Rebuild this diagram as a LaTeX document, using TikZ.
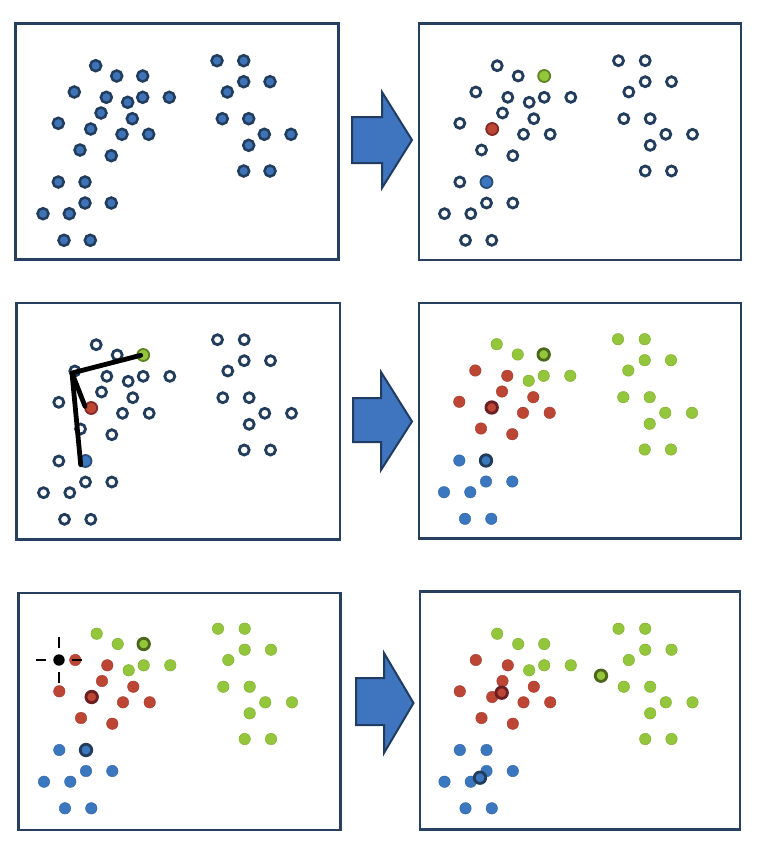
\documentclass[tikz,border=0pt]{standalone}
\usetikzlibrary{calc}
\definecolor{navy}{HTML}{223C5C}
\definecolor{framec}{HTML}{27405F}
\definecolor{dotblue}{HTML}{3E73B8}
\definecolor{cgreen}{HTML}{93C63A}
\definecolor{cred}{HTML}{BC4534}
\definecolor{cblue}{HTML}{3A77BE}
\definecolor{dkgreen}{HTML}{4C661C}
\definecolor{dkred}{HTML}{6A1E22}
\definecolor{arrowfill}{HTML}{3F74BE}
\definecolor{arrowline}{HTML}{203C60}
\tikzset{
  panel/.style={draw=framec, line width=2.8pt},
  dotA/.style={circle, inner sep=0pt, minimum size=11pt, fill=dotblue, draw=navy, line width=2.5pt},
  opendot/.style={circle, inner sep=0pt, minimum size=10pt, fill=white, draw=navy, line width=2.8pt},
  dotG/.style={circle, inner sep=0pt, minimum size=11.5pt, fill=cgreen, draw=cgreen!85!black, line width=0.4pt},
  dotR/.style={circle, inner sep=0pt, minimum size=11.5pt, fill=cred, draw=cred!85!black, line width=0.4pt},
  dotB/.style={circle, inner sep=0pt, minimum size=11.5pt, fill=cblue, draw=cblue!85!black, line width=0.4pt},
  seedG/.style={circle, inner sep=0pt, minimum size=12pt, fill=cgreen, draw=dkgreen!70!cgreen, line width=1.8pt},
  seedR/.style={circle, inner sep=0pt, minimum size=12pt, fill=cred, draw=dkred!70!cred, line width=1.8pt},
  seedB/.style={circle, inner sep=0pt, minimum size=12pt, fill=cblue, draw=navy!70!cblue, line width=1.8pt},
  ringG/.style={circle, inner sep=0pt, minimum size=11.5pt, fill=cgreen, draw=dkgreen, line width=2.8pt},
  ringR/.style={circle, inner sep=0pt, minimum size=11.5pt, fill=cred, draw=dkred, line width=2.8pt},
  ringB/.style={circle, inner sep=0pt, minimum size=11.5pt, fill=cblue, draw=navy, line width=2.8pt},
  blockarrow/.style={fill=arrowfill, draw=arrowline, line width=2pt, line join=miter},
  distline/.style={line width=4.8pt, black, line cap=round, line join=round},
  tick/.style={line width=2.6pt, black}
}
\def\pts{1/95.7/65.7/G,2/116.7/76/G,3/142.7/76/G,4/74.3/92/R,5/106.3/97.3/R,6/127.7/102.3/G,7/142.7/97.3/G,8/169.3/97.3/G,9/101/113/R,10/132.3/118.7/R,11/58.3/123.3/R,12/90.7/129/R,13/122/134.3/R,14/148.7/134.3/R,15/80/150/R,16/111.3/155.7/R,17/58.3/182/B,18/85/182/B,19/85/203/B,20/111.3/203/B,21/43/213.7/B,22/69.3/213.7/B,23/64/240.3/B,24/90.3/240.3/B,25/217/60.7/G,26/243.7/60.7/G,27/243.7/81.7/G,28/270/81.7/G,29/227.3/92/G,30/222.3/118.7/G,31/248.7/118.7/G,32/264.3/134.3/G,33/291/134.3/G,34/248.7/145.3/G,35/243.7/171/G,36/270/171/G}
\begin{document}
\begin{tikzpicture}[x=1pt,y=-1pt]
\useasboundingbox (0,0) rectangle (758,846);
\fill[white] (0,0) rectangle (758,846);
% panels
\draw[panel] (15.7,23.3) rectangle (338.3,259.5);
\draw[panel] (419,23.3) rectangle (741,260);
\draw[panel] (16.7,303) rectangle (340,539.5);
\draw[panel] (419,303) rectangle (741,538.7);
\draw[panel] (18.3,593) rectangle (340.7,830);
\draw[panel] (420,591.7) rectangle (740,829.3);
% arrows
\draw[blockarrow] (352,117) -- (382,117) -- (382,92) -- (412,140) -- (382,188) -- (382,163) -- (352,163) -- cycle;
\draw[blockarrow] (353,398) -- (381,398) -- (381,372) -- (412,421.5) -- (381,470) -- (381,442) -- (353,442) -- cycle;
\draw[blockarrow] (356,678) -- (384,678) -- (384,653) -- (413.5,703) -- (384,753) -- (384,725) -- (356,725) -- cycle;
% panel 1: data
\foreach \i/\x/\y/\c in \pts { \node[dotA] (a\i) at (\x,\y) {}; }
% panel 2: random seeds
\foreach \i/\x/\y/\c in \pts { \node[opendot] (b\i) at ({\x+401.5},\y) {}; }
\node[seedG] (bg) at (b3) {};
\node[seedR] (br) at (b12) {};
\node[seedB] (bb) at (b18) {};
% panel 3: distances
\foreach \i/\x/\y/\c in \pts { \node[opendot] (c\i) at ({\x+0.5},{\y+279}) {}; }
\node[seedG] (cg) at (c3) {};
\node[seedR] (cr) at (c12) {};
\node[seedB] (cb) at (c18) {};
\coordinate (J) at (72,373);
\coordinate (Jg) at (140.7,355.3);
\coordinate (Jr) at (85,406.3);
\coordinate (Jb) at (80.7,464.7);
\draw[distline] (Jg) -- (J) -- (Jb);
\draw[distline] (J) -- (Jr);
% panel 4: assignment
\foreach \i/\x/\y/\c in \pts { \node[dot\c] (d\i) at ({\x+401},{\y+278.5}) {}; }
\node[ringG] (dg) at (d3) {};
\node[ringR] (dr) at (d12) {};
\node[ringB] (db) at (d18) {};
% panel 5: assignment with probe
\foreach \i/\x/\y/\c in \pts { \node[dot\c] (e\i) at ({\x+1},{\y+568}) {}; }
\node[ringG] (eg) at (e3) {};
\node[ringR] (er) at (e12) {};
\node[ringB] (eb) at (e18) {};
\node[circle, fill=black, inner sep=0pt, minimum size=11.4pt] (probe) at (59,660) {};
\draw[tick] ($(probe)+(-23,0)$) -- ($(probe)+(-13,0)$);
\draw[tick] ($(probe)+(13,0)$) -- ($(probe)+(23,0)$);
\draw[tick] ($(probe)+(0,-23)$) -- ($(probe)+(0,-12)$);
\draw[tick] ($(probe)+(0,12)$) -- ($(probe)+(0,23)$);
% panel 6: updated centroids
\foreach \i/\x/\y/\c in \pts { \node[dot\c] (f\i) at ({\x+401.5},{\y+568}) {}; }
\node[ringG] (fg) at (601,675.7) {};
\node[ringR] (fr) at (501.7,692.7) {};
\node[ringB] (fb) at (480,777.7) {};
\end{tikzpicture}
\end{document}
